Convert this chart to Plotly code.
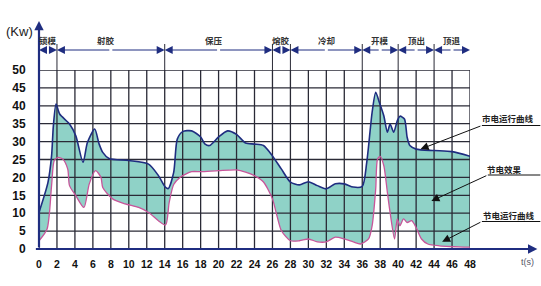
import plotly.graph_objects as go

# ---------------- data ----------------
# 市电运行曲线 (grid power curve)
t_grid = [0, 1, 1.4, 1.6, 1.9, 2.3, 3.4, 4.1, 4.9, 5.4, 6.2, 6.7, 7.1, 7.8, 10, 12.2, 13.3,
          14.1, 14.4, 15, 15.4, 16, 17, 18, 18.5, 19, 20, 21, 22, 23, 24, 25, 26, 27, 28,
          29, 30, 31, 32, 33, 34, 35, 36, 36.5, 37.1, 37.5, 37.9, 38.4, 38.8, 39.1, 39.5,
          39.9, 40.2, 40.7, 41, 41.3, 42, 44, 46, 48]
v_grid = [10.2, 18.6, 26, 34.4, 40.5, 37.7, 34.9, 31.6, 24.2, 29.8, 33.5, 29.3, 27, 25.3,
          24.7, 23.7, 20.5, 17.2, 16.9, 21.4, 30.7, 32.8, 33, 31.3, 29.3, 28.9, 31.3, 33, 32,
          29.6, 29.3, 28.9, 26, 22.3, 18.7, 17.9, 18.8, 17.7, 16.8, 18.2, 18.2, 17.3, 17.5,
          24.2, 38.2, 43.8, 41, 37.2, 32.6, 34.9, 32.6, 35.8, 37.1, 36.3, 31.2, 28.9, 27.9,
          27.5, 27.2, 25.9]

# 节电运行曲线 (energy-saving curve)
t_save = [0, 0.9, 1.4, 1.7, 2.1, 2.65, 3.2, 3.4, 4.1, 5, 5.6, 6.3, 6.9, 7.1, 8.2, 9.6, 11.1,
          12.2, 13.3, 14.1, 14.5, 15, 15.7, 17, 18, 20, 22, 23, 24, 25, 26, 26.5, 27, 28, 29,
          30, 31, 32, 33, 34, 35, 35.8, 36.7, 37.1, 37.5, 37.7, 38, 38.4, 38.8, 39.1, 39.6,
          39.9, 40.2, 40.6, 41, 41.5, 42, 42.6, 43.3, 44.6, 48]
v_save = [2.3, 5.6, 17.7, 24.7, 25.6, 25.1, 22.3, 17.7, 14.9, 11.6, 18.2, 21.9, 20, 17.2, 14,
          12.6, 11.6, 10.2, 7.9, 6.7, 13, 18, 20, 21.6, 21.6, 21.9, 22.1, 21.5, 20.5, 18.7, 14,
          9.3, 5.1, 2.3, 2.3, 2.8, 2.0, 2.0, 3.3, 2.8, 2.0, 1.4, 2.8, 6.5, 16.8, 25.1, 25.9,
          23.3, 15.8, 10.2, 2.8, 8.4, 6.5, 8.4, 7.4, 7.9, 6, 2.8, 1.4, 0.9, 0.5]

phase_bounds = [0, 2, 14, 26, 28, 36, 40, 44, 48]
phase_names = ["锁模", "射胶", "保压", "熔胶", "冷却", "开模", "顶出", "顶退"]
phase_label_x = [1, 7.5, 19.5, 27, 32, 38, 42, 46]

x_ticks = list(range(0, 49, 2))
y_ticks = list(range(0, 51, 5))

legend_texts = ["市电运行曲线", "节电效果", "节电运行曲线"]
legend_head_t = [42.5, 43.7, 44.9]
legend_head_v = [27.9, 13.4, 2.0]

# ---------------- layout geometry (pixels) ----------------
W, H = 541, 286
L, R, T, B = 35, 470, 70, 249
XMAX, YMAX = 48, 50


def px2paper_x(px):
    return (px - L) / (R - L)


def py2paper_y(py):
    return (B - py) / (B - T)


def px2data_x(px):
    return (px - L) / (R - L) * XMAX


def py2data_y(py):
    return (B - py) / (B - T) * YMAX


TEAL = "#8fd2c7"
NAVY = "#1f2d80"
PINK = "#c8559a"
GRIDC = "#2a2a36"

fig = go.Figure()

# fill between the two curves
fig.add_trace(go.Scatter(x=t_save, y=v_save, mode="lines",
                         line=dict(width=0, shape="spline", smoothing=0.7, color=PINK),
                         hoverinfo="skip", showlegend=False))
fig.add_trace(go.Scatter(x=t_grid, y=v_grid, mode="lines", fill="tonexty", fillcolor=TEAL,
                         line=dict(width=0, shape="spline", smoothing=0.7, color=NAVY),
                         hoverinfo="skip", showlegend=False))

# grid drawn above the fill
gx, gy = [], []
for xt in x_ticks:
    gx += [xt, xt, None]
    gy += [0, YMAX, None]
for yt in y_ticks:
    gx += [0, XMAX, None]
    gy += [yt, yt, None]
fig.add_trace(go.Scatter(x=gx, y=gy, mode="lines", line=dict(color=GRIDC, width=1.3),
                         hoverinfo="skip", showlegend=False))

# curves on top
fig.add_trace(go.Scatter(x=t_save, y=v_save, mode="lines",
                         line=dict(width=1.3, shape="spline", smoothing=0.7, color=PINK),
                         hoverinfo="skip", showlegend=False))
fig.add_trace(go.Scatter(x=t_grid, y=v_grid, mode="lines",
                         line=dict(width=1.6, shape="spline", smoothing=0.7, color=NAVY),
                         hoverinfo="skip", showlegend=False))

annotations = []
shapes = []

# axes with arrows
annotations.append(dict(xref="paper", yref="paper", x=px2paper_x(538), y=0, text="",
                        showarrow=True, axref="pixel", ayref="pixel", ax=-(538 - L), ay=0,
                        arrowhead=2, arrowsize=0.85, arrowwidth=2.2, arrowcolor=NAVY))
annotations.append(dict(xref="paper", yref="paper", x=0, y=py2paper_y(21), text="",
                        showarrow=True, axref="pixel", ayref="pixel", ax=0, ay=(B - 21),
                        arrowhead=2, arrowsize=0.85, arrowwidth=2.2, arrowcolor=NAVY))

annotations.append(dict(xref="paper", yref="paper", x=px2paper_x(15), y=py2paper_y(32),
                        xanchor="center", yanchor="middle",
                        text="(Kw)", showarrow=False,
                        font=dict(family="Liberation Sans", size=13, color="#222")))
annotations.append(dict(xref="paper", yref="paper", x=px2paper_x(528), y=py2paper_y(262),
                        xanchor="center", yanchor="middle",
                        text="t(s)", showarrow=False,
                        font=dict(family="Liberation Sans", size=9, color="#556")))

# phase arrows and labels
ROW = py2paper_y(50)
for i, name in enumerate(phase_names):
    a, b = phase_bounds[i], phase_bounds[i + 1]
    mid = (a + b) / 2
    for end in (a, b):
        annotations.append(dict(xref="x", yref="paper", x=end, y=ROW, text="",
                                showarrow=True, axref="x", ayref="pixel", ax=mid, ay=0,
                                arrowhead=2, arrowsize=1.6, arrowwidth=1, arrowcolor=NAVY))
    annotations.append(dict(xref="x", yref="paper", x=phase_label_x[i], y=py2paper_y(40),
                            xanchor="center", yanchor="middle",
                            text=name, showarrow=False,
                            font=dict(family="Noto Sans CJK SC", size=8.5, color="#333",
                                      weight="bold")))
for bnd in phase_bounds[1:-1]:
    shapes.append(dict(type="line", xref="x", yref="paper", x0=bnd, x1=bnd,
                       y0=1, y1=py2paper_y(44), line=dict(color=GRIDC, width=1)))

# legend call-outs
tails_px = [(482, 125.5), (488, 175), (482, 221.5)]
text_px = [(508, 118), (505, 169), (509, 215)]
for i, txt in enumerate(legend_texts):
    tx, ty = tails_px[i]
    annotations.append(dict(xref="x", yref="y", x=legend_head_t[i], y=legend_head_v[i],
                            text="", showarrow=True, axref="x", ayref="y",
                            ax=px2data_x(tx), ay=py2data_y(ty),
                            arrowhead=2, arrowsize=1.6, arrowwidth=1, arrowcolor="#111"))
    shapes.append(dict(type="line", xref="paper", yref="paper",
                       x0=px2paper_x(tx), x1=px2paper_x(W), y0=py2paper_y(ty), y1=py2paper_y(ty),
                       line=dict(color="#111", width=1)))
    annotations.append(dict(xref="paper", yref="paper", x=px2paper_x(text_px[i][0]),
                            y=py2paper_y(text_px[i][1]), xanchor="center", yanchor="middle",
                            text=txt, showarrow=False,
                            font=dict(family="Noto Sans CJK SC", size=8.5, color="#222",
                                      weight="bold")))

fig.update_layout(
    width=W, height=H,
    margin=dict(l=L, r=W - R, t=T, b=H - B, pad=0),
    paper_bgcolor="white", plot_bgcolor="white",
    showlegend=False,
    annotations=annotations,
    shapes=shapes,
    xaxis=dict(range=[0, XMAX], tickvals=x_ticks, ticktext=[str(v) for v in x_ticks],
               showgrid=False, zeroline=False, showline=False,
               ticks="outside", ticklen=5, tickcolor="rgba(0,0,0,0)",
               tickfont=dict(family="Liberation Sans", size=10.5, color="#111", weight="bold"),
               fixedrange=True),
    yaxis=dict(range=[0, YMAX], tickvals=y_ticks, ticktext=[str(v) for v in y_ticks],
               showgrid=False, zeroline=False, showline=False,
               ticks="outside", ticklen=10, tickcolor="rgba(0,0,0,0)",
               tickfont=dict(family="Liberation Sans", size=12, color="#111", weight="bold"),
               fixedrange=True),
)

fig.write_html("out.html")
